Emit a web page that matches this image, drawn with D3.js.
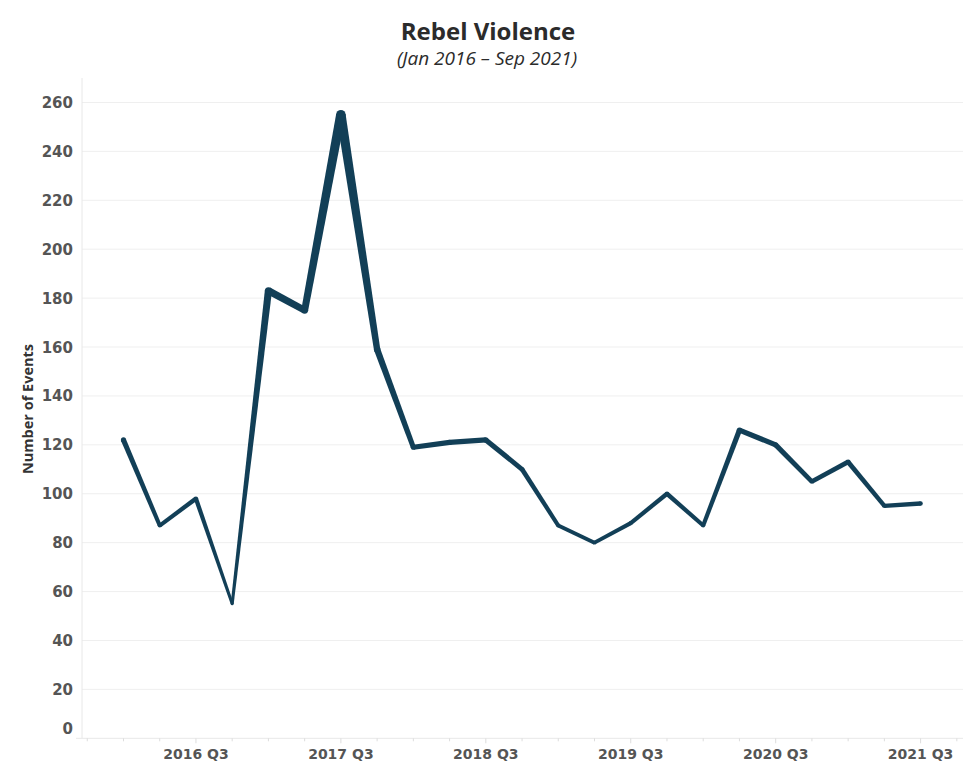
<!DOCTYPE html>
<html>
<head>
<meta charset="utf-8">
<script src="https://cdn.jsdelivr.net/npm/d3@7"></script>
<style>
  html, body { margin: 0; padding: 0; background: #ffffff; }
  svg { display: block; }
</style>
</head>
<body>
<svg id="chart" width="975" height="780"></svg>
<script>
// ---- data ----
const quarters = [
  "2016 Q1","2016 Q2","2016 Q3","2016 Q4",
  "2017 Q1","2017 Q2","2017 Q3","2017 Q4",
  "2018 Q1","2018 Q2","2018 Q3","2018 Q4",
  "2019 Q1","2019 Q2","2019 Q3","2019 Q4",
  "2020 Q1","2020 Q2","2020 Q3","2020 Q4",
  "2021 Q1","2021 Q2","2021 Q3"
];
const events = [122, 87, 98, 55, 183, 175, 255, 159, 119, 121, 122, 110, 87, 80, 88, 100, 87, 126, 120, 105, 113, 95, 96];
const xTickLabels = ["2016 Q3","2017 Q3","2018 Q3","2019 Q3","2020 Q3","2021 Q3"];
const yTickValues = [0, 20, 40, 60, 80, 100, 120, 140, 160, 180, 200, 220, 240, 260];
const titleText = "Rebel Violence";
const subtitleText = "(Jan 2016 \u2013 Sep 2021)";
const yAxisTitle = "Number of Events";

// ---- layout ----
const svg = d3.select("#chart");
const plotLeft = 82, plotRight = 963, plotTop = 78, plotBottom = 738.3;
const lineColor = "#123f57";

const x = d3.scaleLinear().domain([-1.145, 23.17]).range([plotLeft, plotRight]);
const y = d3.scaleLinear().domain([0, 270]).range([plotBottom, plotTop]);
const w = d3.scaleLinear().domain([55, 255]).range([3, 9.5]);

// title
svg.append("text")
  .attr("x", 488).attr("y", 40)
  .attr("text-anchor", "middle")
  .attr("font-family", "'Open Sans', sans-serif")
  .attr("font-weight", "bold")
  .attr("font-size", 24)
  .attr("fill", "#2b2b2b")
  .text(titleText);
svg.append("text")
  .attr("x", 487).attr("y", 65)
  .attr("text-anchor", "middle")
  .attr("font-family", "'Open Sans', sans-serif")
  .attr("font-style", "italic")
  .attr("font-size", 19)
  .attr("fill", "#2b2b2b")
  .text(subtitleText);

// gridlines
svg.append("g")
  .selectAll("line")
  .data(yTickValues.filter(v => v > 0))
  .join("line")
  .attr("x1", plotLeft).attr("x2", plotRight)
  .attr("y1", d => y(d)).attr("y2", d => y(d))
  .attr("stroke", "#efefef").attr("stroke-width", 1);

// axis lines
svg.append("line")
  .attr("x1", plotLeft).attr("x2", plotLeft)
  .attr("y1", plotTop).attr("y2", plotBottom)
  .attr("stroke", "#e8e8e8").attr("stroke-width", 1);
svg.append("line")
  .attr("x1", 76).attr("x2", plotRight)
  .attr("y1", plotBottom).attr("y2", plotBottom)
  .attr("stroke", "#e8e8e8").attr("stroke-width", 1);

// x ticks (every quarter)
const tickIdx = d3.range(-1, 24);
svg.append("g")
  .selectAll("line")
  .data(tickIdx)
  .join("line")
  .attr("x1", d => x(d)).attr("x2", d => x(d))
  .attr("y1", plotBottom)
  .attr("y2", d => plotBottom + (((d - 2) % 4 === 0) ? 5 : 3))
  .attr("stroke", "#dddddd").attr("stroke-width", 1);

// x labels
svg.append("g")
  .selectAll("text")
  .data(xTickLabels)
  .join("text")
  .attr("x", d => x(quarters.indexOf(d)))
  .attr("y", 759)
  .attr("text-anchor", "middle")
  .attr("font-family", "'DejaVu Sans', sans-serif")
  .attr("font-weight", "bold")
  .attr("font-size", 14)
  .attr("fill", "#555555")
  .text(d => d);

// y labels
svg.append("g")
  .selectAll("text")
  .data(yTickValues)
  .join("text")
  .attr("x", 73)
  .attr("y", d => d === 0 ? y(d) - 4 : y(d) + 5.5)
  .attr("text-anchor", "end")
  .attr("font-family", "'DejaVu Sans', sans-serif")
  .attr("font-weight", "bold")
  .attr("font-size", 15)
  .attr("fill", "#555555")
  .text(d => d);

// y axis title
svg.append("text")
  .attr("transform", `translate(33, 409) rotate(-90)`)
  .attr("text-anchor", "middle")
  .attr("font-family", "'Open Sans', sans-serif")
  .attr("font-weight", "bold")
  .attr("font-size", 14.5)
  .attr("fill", "#333333")
  .text(yAxisTitle);

// tapered line: one polygon per segment, round joins via circles
const pts = events.map((v, i) => ({ px: x(i), py: y(v), r: w(v) / 2 }));
const segs = d3.pairs(pts);
const lineG = svg.append("g");
lineG.selectAll("path")
  .data(segs)
  .join("path")
  .attr("d", ([a, b]) => {
    const dx = b.px - a.px, dy = b.py - a.py;
    const len = Math.hypot(dx, dy);
    const nx = -dy / len, ny = dx / len;
    const p = d3.path();
    p.moveTo(a.px + nx * a.r, a.py + ny * a.r);
    p.lineTo(b.px + nx * b.r, b.py + ny * b.r);
    p.lineTo(b.px - nx * b.r, b.py - ny * b.r);
    p.lineTo(a.px - nx * a.r, a.py - ny * a.r);
    p.closePath();
    return p.toString();
  })
  .attr("fill", lineColor);
lineG.selectAll("circle")
  .data(pts)
  .join("circle")
  .attr("cx", d => d.px).attr("cy", d => d.py).attr("r", d => d.r)
  .attr("fill", lineColor);
</script>
</body>
</html>
